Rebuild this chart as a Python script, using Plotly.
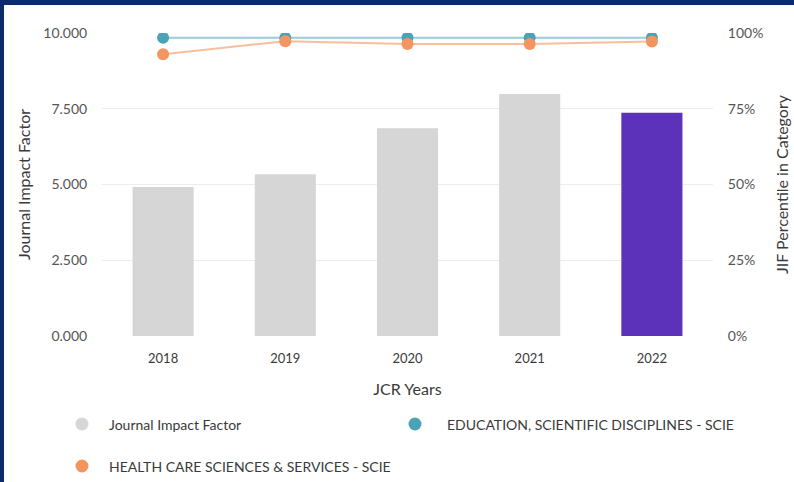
import plotly.graph_objects as go

years = ["2018", "2019", "2020", "2021", "2022"]
jif = [4.92, 5.34, 6.86, 7.99, 7.37]
edu_pct = [98.4, 98.4, 98.4, 98.4, 98.4]
hcs_pct = [93.0, 97.3, 96.4, 96.4, 97.2]
bar_colors = ["#d6d6d6", "#d6d6d6", "#d6d6d6", "#d6d6d6", "#5c32bb"]
pct_ticks = [0, 25, 50, 75, 100]
pct_labels = ["0%", "25%", "50%", "75%", "100%"]

FONT = "Lato"
W, H = 794, 482
L, R, T, B = 102, 81, 33, 146

fig = go.Figure()
fig.add_trace(go.Bar(x=years, y=jif, marker=dict(color=bar_colors, line=dict(width=0)),
                     width=0.5, name="Journal Impact Factor", showlegend=False, yaxis="y"))
fig.add_trace(go.Scatter(x=years, y=edu_pct, mode="lines+markers", yaxis="y2",
                         name="EDUCATION, SCIENTIFIC DISCIPLINES - SCIE", showlegend=False,
                         line=dict(color="rgba(74,163,182,0.55)", width=2),
                         marker=dict(color="#4aa3b6", size=12)))
fig.add_trace(go.Scatter(x=years, y=hcs_pct, mode="lines+markers", yaxis="y2",
                         name="HEALTH CARE SCIENCES & SERVICES - SCIE", showlegend=False,
                         line=dict(color="rgba(244,148,94,0.6)", width=2),
                         marker=dict(color="#f4945e", size=12)))

def px(x):
    return (x - L) / (W - L - R)

def py(y):
    return (H - B - y) / (H - T - B)

shapes = [
    dict(type="rect", xref="paper", yref="paper", x0=px(-2), x1=px(W + 2), y0=py(5), y1=py(-2),
         fillcolor="#0a2c6b", line=dict(width=0), layer="above"),
    dict(type="rect", xref="paper", yref="paper", x0=px(-2), x1=px(4), y0=py(H + 2), y1=py(-2),
         fillcolor="#0a2c6b", line=dict(width=0), layer="above"),
]
legend_items = [
    ("Journal Impact Factor", "#d6d6d6", 82, 107, 424),
    ("EDUCATION, SCIENTIFIC DISCIPLINES - SCIE", "#4aa3b6", 415, 445, 424),
    ("HEALTH CARE SCIENCES & SERVICES - SCIE", "#f4945e", 82, 107, 466),
]
annotations = []
for text, col, mx, tx, yy in legend_items:
    shapes.append(dict(type="circle", xref="paper", yref="paper", xsizemode="pixel", ysizemode="pixel",
                       xanchor=px(mx), yanchor=py(yy), x0=-6.5, x1=6.5, y0=-6.5, y1=6.5,
                       fillcolor=col, line=dict(width=0)))
    annotations.append(dict(xref="paper", yref="paper", x=px(tx), y=py(yy), text=text,
                            showarrow=False, xanchor="left", yanchor="middle",
                            font=dict(family=FONT, size=14, color="#3a3a3a")))

fig.update_layout(
    width=W, height=H,
    margin=dict(l=L, r=R, t=T, b=B, autoexpand=False),
    paper_bgcolor="white", plot_bgcolor="white",
    font=dict(family=FONT, size=13, color="#555"),
    showlegend=False,
    bargap=0.5,
    xaxis=dict(title=dict(text="JCR Years", font=dict(size=16, color="#3a3a3a"), standoff=19),
               ticks="outside", ticklen=10, tickcolor="rgba(0,0,0,0)", showline=False,
               tickfont=dict(size=13, color="#3a3a3a"), automargin=False),
    yaxis=dict(title=dict(text="Journal Impact Factor", font=dict(size=16, color="#3a3a3a"), standoff=8),
               range=[0, 10], tickvals=[0, 2.5, 5, 7.5, 10], tickformat=".3f",
               gridcolor="#ececec", gridwidth=1, zeroline=False, showline=False,
               ticks="outside", ticklen=11, tickcolor="rgba(0,0,0,0)",
               tickfont=dict(size=14, color="#555"), automargin=False),
    yaxis2=dict(title=dict(text="JIF Percentile in Category", font=dict(size=16, color="#3a3a3a"), standoff=14),
                overlaying="y", side="right", range=[0, 100], tickmode="array",
                tickvals=pct_ticks, ticktext=pct_labels,
                showgrid=False, zeroline=False, showline=False,
                ticks="outside", ticklen=11, tickcolor="rgba(0,0,0,0)",
                tickfont=dict(size=14, color="#555"), automargin=False),
    shapes=shapes,
    annotations=annotations,
)

fig.write_html("out.html", config={"displayModeBar": False},
               post_script="document.body.style.margin='0';document.body.style.overflow='hidden';")
